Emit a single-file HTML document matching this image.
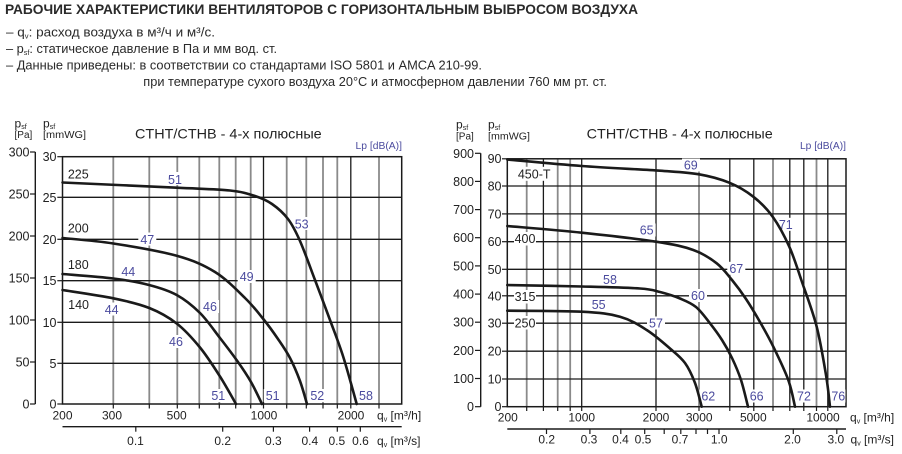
<!DOCTYPE html>
<html>
<head>
<meta charset="utf-8">
<style>
html,body{margin:0;padding:0;background:#fff;}
svg{display:block;}
text{font-family:"Liberation Sans","DejaVu Sans",sans-serif;}
</style>
</head>
<body>
<svg width="902" height="454" viewBox="0 0 902 454" xmlns="http://www.w3.org/2000/svg">
<rect x="0" y="0" width="902" height="454" fill="#fff"/>

<!-- Header -->
<g fill="#2a2a2a">
<text x="5" y="14" font-weight="bold" font-size="14" textLength="633" lengthAdjust="spacingAndGlyphs">РАБОЧИЕ ХАРАКТЕРИСТИКИ ВЕНТИЛЯТОРОВ С ГОРИЗОНТАЛЬНЫМ ВЫБРОСОМ ВОЗДУХА</text>
<text x="6" y="36.7" font-size="12.5" textLength="209" lengthAdjust="spacingAndGlyphs">– q<tspan font-size="7" dy="2">v</tspan><tspan dy="-2">: расход воздуха в м³/ч и м³/с.</tspan></text>
<text x="6" y="53.2" font-size="12.5" textLength="271" lengthAdjust="spacingAndGlyphs">– p<tspan font-size="7" dy="2">sf</tspan><tspan dy="-2">: статическое давление в Па и мм вод. ст.</tspan></text>
<text x="6" y="69.7" font-size="12.5" textLength="476" lengthAdjust="spacingAndGlyphs">– Данные приведены: в соответствии со стандартами ISO 5801 и AMCA 210-99.</text>
<text x="143.3" y="86.2" font-size="12.5" textLength="463.7" lengthAdjust="spacingAndGlyphs">при температуре сухого воздуха 20°C и атмосферном давлении 760 мм рт. ст.</text>
</g>

<!-- ================= LEFT CHART ================= -->
<g>
<g stroke="#8a8a8a" stroke-width="1.8">
<line x1="113.3" y1="156.7" x2="113.3" y2="404"/>
<line x1="149.3" y1="156.7" x2="149.3" y2="404"/>
<line x1="177.3" y1="156.7" x2="177.3" y2="404"/>
<line x1="199.3" y1="156.7" x2="199.3" y2="404"/>
<line x1="219.3" y1="156.7" x2="219.3" y2="404"/>
<line x1="235.7" y1="156.7" x2="235.7" y2="404"/>
<line x1="250.7" y1="156.7" x2="250.7" y2="404"/>
<line x1="286.7" y1="156.7" x2="286.7" y2="404"/>
<line x1="306.3" y1="156.7" x2="306.3" y2="404"/>
<line x1="323" y1="156.7" x2="323" y2="404"/>
<line x1="337.3" y1="156.7" x2="337.3" y2="404"/>
<line x1="379" y1="156.7" x2="379" y2="404"/>
</g>
<g stroke="#1a1a1a" stroke-width="1.3">
<line x1="263.5" y1="156.7" x2="263.5" y2="404"/>
<line x1="350.8" y1="156.7" x2="350.8" y2="404"/>
<line x1="62.5" y1="197.3" x2="401.7" y2="197.3"/>
<line x1="62.5" y1="239.3" x2="401.7" y2="239.3"/>
<line x1="62.5" y1="280.7" x2="401.7" y2="280.7"/>
<line x1="62.5" y1="322.3" x2="401.7" y2="322.3"/>
<line x1="62.5" y1="363.3" x2="401.7" y2="363.3"/>
</g>
<rect x="62.5" y="156.7" width="339.2" height="247.3" fill="none" stroke="#1a1a1a" stroke-width="1.5"/>
<g stroke="#1a1a1a" stroke-width="1.2">
<line x1="113.3" y1="404" x2="113.3" y2="408.5"/>
<line x1="149.3" y1="404" x2="149.3" y2="408.5"/>
<line x1="177.3" y1="404" x2="177.3" y2="408.5"/>
<line x1="199.3" y1="404" x2="199.3" y2="408.5"/>
<line x1="219.3" y1="404" x2="219.3" y2="408.5"/>
<line x1="235.7" y1="404" x2="235.7" y2="408.5"/>
<line x1="250.7" y1="404" x2="250.7" y2="408.5"/>
<line x1="263.5" y1="404" x2="263.5" y2="408.5"/>
<line x1="286.7" y1="404" x2="286.7" y2="408.5"/>
<line x1="306.3" y1="404" x2="306.3" y2="408.5"/>
<line x1="323" y1="404" x2="323" y2="408.5"/>
<line x1="337.3" y1="404" x2="337.3" y2="408.5"/>
<line x1="350.8" y1="404" x2="350.8" y2="408.5"/>
<line x1="379" y1="404" x2="379" y2="408.5"/>
<line x1="62.5" y1="426.7" x2="401.7" y2="426.7" stroke-width="1.4"/>
<line x1="135.8" y1="426.7" x2="135.8" y2="431.7"/>
<line x1="222.7" y1="426.7" x2="222.7" y2="431.7"/>
<line x1="273.4" y1="426.7" x2="273.4" y2="431.7"/>
<line x1="309.6" y1="426.7" x2="309.6" y2="431.7"/>
<line x1="337.3" y1="426.7" x2="337.3" y2="431.7"/>
<line x1="360.3" y1="426.7" x2="360.3" y2="431.7"/>
<line x1="35.3" y1="152" x2="35.3" y2="404" stroke-width="1.4"/>
<line x1="30" y1="152" x2="35.3" y2="152"/>
<line x1="30" y1="194" x2="35.3" y2="194"/>
<line x1="30" y1="236" x2="35.3" y2="236"/>
<line x1="30" y1="278" x2="35.3" y2="278"/>
<line x1="30" y1="320" x2="35.3" y2="320"/>
<line x1="30" y1="362" x2="35.3" y2="362"/>
<line x1="30" y1="404" x2="35.3" y2="404"/>
<line x1="57.3" y1="156.7" x2="62.5" y2="156.7"/>
<line x1="57.3" y1="197.3" x2="62.5" y2="197.3"/>
<line x1="57.3" y1="239.3" x2="62.5" y2="239.3"/>
<line x1="57.3" y1="280.7" x2="62.5" y2="280.7"/>
<line x1="57.3" y1="322.3" x2="62.5" y2="322.3"/>
<line x1="57.3" y1="363.3" x2="62.5" y2="363.3"/>
<line x1="57.3" y1="404" x2="62.5" y2="404"/>
</g>

<g fill="#222" font-size="12.5" text-anchor="end">
<text x="29.5" y="156.5">300</text>
<text x="29.5" y="198.5">250</text>
<text x="29.5" y="240.5">200</text>
<text x="29.5" y="282.5">150</text>
<text x="29.5" y="324.5">100</text>
<text x="29.5" y="366.5">50</text>
<text x="29.5" y="408.5">0</text>
<text x="56.5" y="161.2">30</text>
<text x="56.5" y="201.8">25</text>
<text x="56.5" y="243.8">20</text>
<text x="56.5" y="285.2">15</text>
<text x="56.5" y="326.8">10</text>
<text x="56.5" y="367.8">5</text>
<text x="56.5" y="408.5">0</text>
</g>
<g fill="#222" font-size="12" text-anchor="middle">
<text x="62.5" y="419.3">200</text>
<text x="112" y="419.3">300</text>
<text x="176.7" y="419.3">500</text>
<text x="264" y="419.3">1000</text>
<text x="351" y="419.3">2000</text>
<text x="135.5" y="445">0.1</text>
<text x="222.7" y="445">0.2</text>
<text x="273.4" y="445">0.3</text>
<text x="309.8" y="445">0.4</text>
<text x="336.8" y="445">0.5</text>
<text x="360.5" y="445">0.6</text>
</g>
<g fill="#222" font-size="12">
<text x="377" y="419.3">q<tspan font-size="7" dy="2">v</tspan><tspan dy="-2"> [m³/h]</tspan></text>
<text x="377" y="445">q<tspan font-size="7" dy="2">v</tspan><tspan dy="-2"> [m³/s]</tspan></text>
</g>
<g fill="#222">
<text x="14.5" y="127.5" font-size="12">p<tspan font-size="7" dy="1.5">sf</tspan></text>
<text x="14.5" y="138" font-size="10">[Pa]</text>
<text x="43" y="127.5" font-size="12">p<tspan font-size="7" dy="1.5">sf</tspan></text>
<text x="43" y="138" font-size="10" textLength="43" lengthAdjust="spacingAndGlyphs">[mmWG]</text>
<text x="135" y="138.3" font-size="14" textLength="186.7" lengthAdjust="spacingAndGlyphs">CTHT/CTHB - 4-х полюсные</text>
</g>
<text x="402" y="149" font-size="10.5" fill="#4b4b9e" text-anchor="end" textLength="46.5" lengthAdjust="spacingAndGlyphs">Lp [dB(A)]</text>

<g fill="#fff">
<rect x="166" y="172" width="18" height="13"/>
<rect x="292.7" y="217" width="18" height="13"/>
<rect x="138.3" y="232.5" width="18" height="13"/>
<rect x="237.7" y="270" width="18" height="13"/>
<rect x="119.3" y="265" width="18" height="13"/>
<rect x="201" y="300" width="18" height="13"/>
<rect x="102.7" y="302.5" width="18" height="13"/>
<rect x="167" y="335" width="18" height="13"/>
<rect x="209.3" y="389" width="18" height="13"/>
<rect x="263.7" y="389" width="18" height="13"/>
<rect x="308.3" y="389" width="18" height="13"/>
<rect x="357" y="389" width="18" height="13"/>
</g>
<g fill="#4b4b9e" font-size="12.5" text-anchor="middle">
<text x="175" y="183.8">51</text>
<text x="301.7" y="228.5">53</text>
<text x="147.3" y="243.8">47</text>
<text x="246.7" y="281.2">49</text>
<text x="128.3" y="276.2">44</text>
<text x="210" y="311.2">46</text>
<text x="111.7" y="313.8">44</text>
<text x="176" y="346.2">46</text>
<text x="218.3" y="400.2">51</text>
<text x="272.7" y="400.2">51</text>
<text x="317.3" y="400.2">52</text>
<text x="366" y="400.2">58</text>
</g>
<g fill="#222" font-size="12.5" text-anchor="middle">
<text x="78.3" y="178.3">225</text>
<text x="78.3" y="232.5">200</text>
<text x="78.3" y="269.2">180</text>
<text x="78.6" y="309.2">140</text>
</g>

<g fill="none" stroke="#1a1a1a" stroke-width="2.6" stroke-linejoin="round" stroke-linecap="round">
<path d="M62.5,182.5 C81.5,183.4 148.8,186.4 176.7,187.7 C204.6,189 217,189.1 230,190.5 C243.05,191.9 248,193.75 255,196 C262,198.25 266.5,200.2 272,204 C277.5,207.8 283.3,212.8 288,219 C292.7,225.2 295.5,230.8 300,241 C304.5,251.2 310,266.8 315,280 C320,293.2 325.3,307.2 330,320 C334.7,332.8 338.85,343 343.3,357 C347.75,371 354.5,396.2 356.7,404"/>
<path d="M62.5,238 C70.97,238.92 94.27,240.53 113.3,243.5 C132.33,246.47 159.75,251.05 176.7,255.8 C193.65,260.55 203.62,264.97 215,272 C226.38,279.03 236.95,290.17 245,298 C253.05,305.83 257.8,312.17 263.3,319 C268.8,325.83 273.55,332.5 278,339 C282.45,345.5 286.33,351 290,358 C293.67,365 297.17,373.33 300,381 C302.83,388.67 305.83,400.17 307,404"/>
<path d="M62.5,274 C70.97,274.75 98.88,276.67 113.3,278.5 C127.72,280.33 138.43,282.25 149,285 C159.57,287.75 168.2,290.33 176.7,295 C185.2,299.67 192.78,305.83 200,313 C207.22,320.17 213.67,329.83 220,338 C226.33,346.17 232.83,354.67 238,362 C243.17,369.33 247,375 251,382 C255,389 260.17,400.33 262,404"/>
<path d="M62.5,290 C70.97,291.38 98.83,295.3 113.3,298.3 C127.77,301.3 138.73,303.8 149.3,308 C159.87,312.2 168.25,316.92 176.7,323.5 C185.15,330.08 192.78,338.67 200,347.5 C207.22,356.33 214,367.08 220,376.5 C226,385.92 233.33,399.42 236,404"/>
</g>
</g>

<!-- ================= RIGHT CHART ================= -->
<g>
<g stroke="#8a8a8a" stroke-width="1.8">
<line x1="526.7" y1="158.8" x2="526.7" y2="406.7"/>
<line x1="557.7" y1="158.8" x2="557.7" y2="406.7"/>
<line x1="570.2" y1="158.8" x2="570.2" y2="406.7"/>
<line x1="699" y1="158.8" x2="699" y2="406.7"/>
<line x1="773" y1="158.8" x2="773" y2="406.7"/>
<line x1="816.5" y1="158.8" x2="816.5" y2="406.7"/>
</g>
<g stroke="#1a1a1a" stroke-width="1.3">
<line x1="543.4" y1="158.8" x2="543.4" y2="406.7"/>
<line x1="581.7" y1="158.8" x2="581.7" y2="406.7"/>
<line x1="656" y1="158.8" x2="656" y2="406.7"/>
<line x1="729.8" y1="158.8" x2="729.8" y2="406.7"/>
<line x1="753.8" y1="158.8" x2="753.8" y2="406.7"/>
<line x1="789.8" y1="158.8" x2="789.8" y2="406.7"/>
<line x1="803.8" y1="158.8" x2="803.8" y2="406.7"/>
<line x1="827.8" y1="158.8" x2="827.8" y2="406.7"/>
<line x1="507.3" y1="186" x2="846" y2="186"/>
<line x1="507.3" y1="213.9" x2="846" y2="213.9"/>
<line x1="507.3" y1="241.7" x2="846" y2="241.7"/>
<line x1="507.3" y1="269.3" x2="846" y2="269.3"/>
<line x1="507.3" y1="295.8" x2="846" y2="295.8"/>
<line x1="507.3" y1="323.2" x2="846" y2="323.2"/>
<line x1="507.3" y1="351.2" x2="846" y2="351.2"/>
<line x1="507.3" y1="379" x2="846" y2="379"/>
</g>
<rect x="507.3" y="158.8" width="338.7" height="247.9" fill="none" stroke="#1a1a1a" stroke-width="1.5"/>
<g stroke="#1a1a1a" stroke-width="1.2">
<line x1="526.7" y1="406.7" x2="526.7" y2="411"/>
<line x1="543.4" y1="406.7" x2="543.4" y2="411"/>
<line x1="557.7" y1="406.7" x2="557.7" y2="411"/>
<line x1="570.2" y1="406.7" x2="570.2" y2="411"/>
<line x1="581.7" y1="406.7" x2="581.7" y2="411"/>
<line x1="656" y1="406.7" x2="656" y2="411"/>
<line x1="699" y1="406.7" x2="699" y2="411"/>
<line x1="729.8" y1="406.7" x2="729.8" y2="411"/>
<line x1="753.8" y1="406.7" x2="753.8" y2="411"/>
<line x1="773" y1="406.7" x2="773" y2="411"/>
<line x1="789.8" y1="406.7" x2="789.8" y2="411"/>
<line x1="803.8" y1="406.7" x2="803.8" y2="411"/>
<line x1="816.5" y1="406.7" x2="816.5" y2="411"/>
<line x1="827.8" y1="406.7" x2="827.8" y2="411"/>
<line x1="507.3" y1="429" x2="846" y2="429" stroke-width="1.4"/>
<line x1="546.5" y1="429" x2="546.5" y2="434"/>
<line x1="589.9" y1="429" x2="589.9" y2="434"/>
<line x1="620.8" y1="429" x2="620.8" y2="434"/>
<line x1="644.7" y1="429" x2="644.7" y2="434"/>
<line x1="664.2" y1="429" x2="664.2" y2="434"/>
<line x1="680.8" y1="429" x2="680.8" y2="434"/>
<line x1="696" y1="429" x2="696" y2="434"/>
<line x1="707.5" y1="429" x2="707.5" y2="434"/>
<line x1="719" y1="429" x2="719" y2="434"/>
<line x1="793.3" y1="429" x2="793.3" y2="434"/>
<line x1="836.8" y1="429" x2="836.8" y2="434"/>
<line x1="480.7" y1="153.3" x2="480.7" y2="406.7" stroke-width="1.4"/>
<line x1="475" y1="153.3" x2="480.7" y2="153.3"/>
<line x1="475" y1="181.4" x2="480.7" y2="181.4"/>
<line x1="475" y1="209.6" x2="480.7" y2="209.6"/>
<line x1="475" y1="237.7" x2="480.7" y2="237.7"/>
<line x1="475" y1="265.9" x2="480.7" y2="265.9"/>
<line x1="475" y1="294.1" x2="480.7" y2="294.1"/>
<line x1="475" y1="322.2" x2="480.7" y2="322.2"/>
<line x1="475" y1="350.4" x2="480.7" y2="350.4"/>
<line x1="475" y1="378.5" x2="480.7" y2="378.5"/>
<line x1="475" y1="406.7" x2="480.7" y2="406.7"/>
<line x1="502" y1="158.8" x2="507.3" y2="158.8"/>
<line x1="502" y1="186" x2="507.3" y2="186"/>
<line x1="502" y1="213.9" x2="507.3" y2="213.9"/>
<line x1="502" y1="241.7" x2="507.3" y2="241.7"/>
<line x1="502" y1="269.3" x2="507.3" y2="269.3"/>
<line x1="502" y1="295.8" x2="507.3" y2="295.8"/>
<line x1="502" y1="323.2" x2="507.3" y2="323.2"/>
<line x1="502" y1="351.2" x2="507.3" y2="351.2"/>
<line x1="502" y1="379" x2="507.3" y2="379"/>
<line x1="502" y1="406.7" x2="507.3" y2="406.7"/>
</g>

<g fill="#222" font-size="12.5" text-anchor="end">
<text x="474" y="157.8">900</text>
<text x="474" y="185.9">800</text>
<text x="474" y="214.1">700</text>
<text x="474" y="242.2">600</text>
<text x="474" y="270.4">500</text>
<text x="474" y="298.6">400</text>
<text x="474" y="326.7">300</text>
<text x="474" y="354.9">200</text>
<text x="474" y="383">100</text>
<text x="474" y="411.2">0</text>
<text x="501.5" y="163">90</text>
<text x="501.5" y="190.5">80</text>
<text x="501.5" y="218.4">70</text>
<text x="501.5" y="246.2">60</text>
<text x="501.5" y="273.8">50</text>
<text x="501.5" y="300.3">40</text>
<text x="501.5" y="327.7">30</text>
<text x="501.5" y="355.7">20</text>
<text x="501.5" y="383.5">10</text>
<text x="501.5" y="411.2">0</text>
</g>
<g fill="#222" font-size="12" text-anchor="middle">
<text x="507.8" y="421.7">200</text>
<text x="581.7" y="421.7">1000</text>
<text x="656" y="421.7">2000</text>
<text x="699.2" y="421.7">3000</text>
<text x="753.3" y="421.7">5000</text>
<text x="823" y="421.7">10000</text>
<text x="546.7" y="443.3">0.2</text>
<text x="589" y="443.3">0.3</text>
<text x="620.5" y="443.3">0.4</text>
<text x="643" y="443.3">0.5</text>
<text x="680" y="443.3">0.7</text>
<text x="719.2" y="443.3">1.0</text>
<text x="792.5" y="443.3">2.0</text>
<text x="835.8" y="443.3">3.0</text>
</g>
<g fill="#222" font-size="12">
<text x="850" y="421.7">q<tspan font-size="7" dy="2">v</tspan><tspan dy="-2"> [m³/h]</tspan></text>
<text x="850.5" y="443.3">q<tspan font-size="7" dy="2">v</tspan><tspan dy="-2"> [m³/s]</tspan></text>
</g>
<g fill="#222">
<text x="456" y="128.5" font-size="12">p<tspan font-size="7" dy="1.5">sf</tspan></text>
<text x="456" y="139.5" font-size="10">[Pa]</text>
<text x="488" y="128.5" font-size="12">p<tspan font-size="7" dy="1.5">sf</tspan></text>
<text x="488" y="139.5" font-size="10" textLength="42" lengthAdjust="spacingAndGlyphs">[mmWG]</text>
<text x="586.7" y="138.3" font-size="14" textLength="186" lengthAdjust="spacingAndGlyphs">CTHT/CTHB - 4-х полюсные</text>
</g>
<text x="846" y="149" font-size="10.5" fill="#4b4b9e" text-anchor="end" textLength="46" lengthAdjust="spacingAndGlyphs">Lp [dB(A)]</text>

<g fill="#fff">
<rect x="682" y="158.5" width="18" height="13"/>
<rect x="777" y="217.8" width="18" height="13"/>
<rect x="727.3" y="261.8" width="18" height="13"/>
<rect x="637.7" y="223.5" width="18" height="13"/>
<rect x="601" y="272.8" width="18" height="13"/>
<rect x="589.7" y="298" width="18" height="13"/>
<rect x="647" y="316.5" width="18" height="13"/>
<rect x="689" y="289" width="18" height="13"/>
<rect x="699.3" y="389.5" width="18" height="13"/>
<rect x="747.7" y="389.5" width="18" height="13"/>
<rect x="795" y="389.5" width="18" height="13"/>
<rect x="829.5" y="389.5" width="16" height="13"/>
<rect x="516" y="166.8" width="36" height="14"/>
<rect x="514" y="232" width="22" height="13.5"/>
<rect x="514" y="290" width="22" height="13.5"/>
<rect x="514" y="316" width="22" height="13.5"/>
</g>
<g fill="#4b4b9e" font-size="12.5" text-anchor="middle">
<text x="690.8" y="169.5">69</text>
<text x="785.8" y="228.8">71</text>
<text x="736.3" y="272.8">67</text>
<text x="646.7" y="234.5">65</text>
<text x="610" y="283.8">58</text>
<text x="598.7" y="309">55</text>
<text x="656" y="327.5">57</text>
<text x="698" y="300">60</text>
<text x="708.3" y="400.5">62</text>
<text x="756.7" y="400.5">66</text>
<text x="804" y="400.5">72</text>
<text x="838.3" y="400.5">76</text>
</g>
<g fill="#222" font-size="12.5" text-anchor="middle">
<text x="534.2" y="178.3">450-T</text>
<text x="525" y="243.2">400</text>
<text x="525" y="301.2">315</text>
<text x="525" y="327.3">250</text>
</g>

<g fill="none" stroke="#1a1a1a" stroke-width="2.6" stroke-linejoin="round" stroke-linecap="round">
<path d="M507.3,159.5 C519.7,160.58 556.25,164.13 581.7,166 C607.15,167.87 640.45,169.32 660,170.7 C679.55,172.08 687.45,172.3 699,174.3 C710.55,176.3 720.25,178.97 729.3,182.7 C738.35,186.43 746.07,191.03 753.3,196.7 C760.53,202.37 766.7,208.37 772.7,216.7 C778.7,225.03 784.42,235.82 789.3,246.7 C794.18,257.58 797.47,268.78 802,282 C806.53,295.22 812.5,310.5 816.5,326 C820.5,341.5 823.75,361.55 826,375 C828.25,388.45 829.33,401.42 830,406.7"/>
<path d="M507.3,226 C519.7,227.12 556.92,230.08 581.7,232.7 C606.48,235.32 637.4,238.82 656,241.7 C674.6,244.58 683.18,246.4 693.3,250 C703.42,253.6 710.25,258.3 716.7,263.3 C723.15,268.3 727.12,274.05 732,280 C736.88,285.95 741.33,292 746,299 C750.67,306 755.45,314.05 760,322 C764.55,329.95 768.58,337.03 773.3,346.7 C778.02,356.37 784.68,370 788.3,380 C791.92,390 793.88,402.25 795,406.7"/>
<path d="M507.3,285 C519.7,285.25 559.58,285.92 581.7,286.5 C603.82,287.08 626.95,287.58 640,288.5 C653.05,289.42 653.33,290.33 660,292 C666.67,293.67 674,296 680,298.5 C686,301 691,302.87 696,307 C701,311.13 705.67,317.8 710,323.3 C714.33,328.8 718.33,334.22 722,340 C725.67,345.78 728.83,351.33 732,358 C735.17,364.67 738.33,371.88 741,380 C743.67,388.12 746.83,402.25 748,406.7"/>
<path d="M507.3,310.7 C519.7,310.87 562.92,310.7 581.7,311.7 C600.48,312.7 609.17,313.65 620,316.7 C630.83,319.75 638.37,324.7 646.7,330 C655.03,335.3 663.62,343 670,348.5 C676.38,354 680.83,357.25 685,363 C689.17,368.75 692.22,375.72 695,383 C697.78,390.28 700.58,402.75 701.7,406.7"/>
</g>
</g>
</svg>
</body>
</html>
